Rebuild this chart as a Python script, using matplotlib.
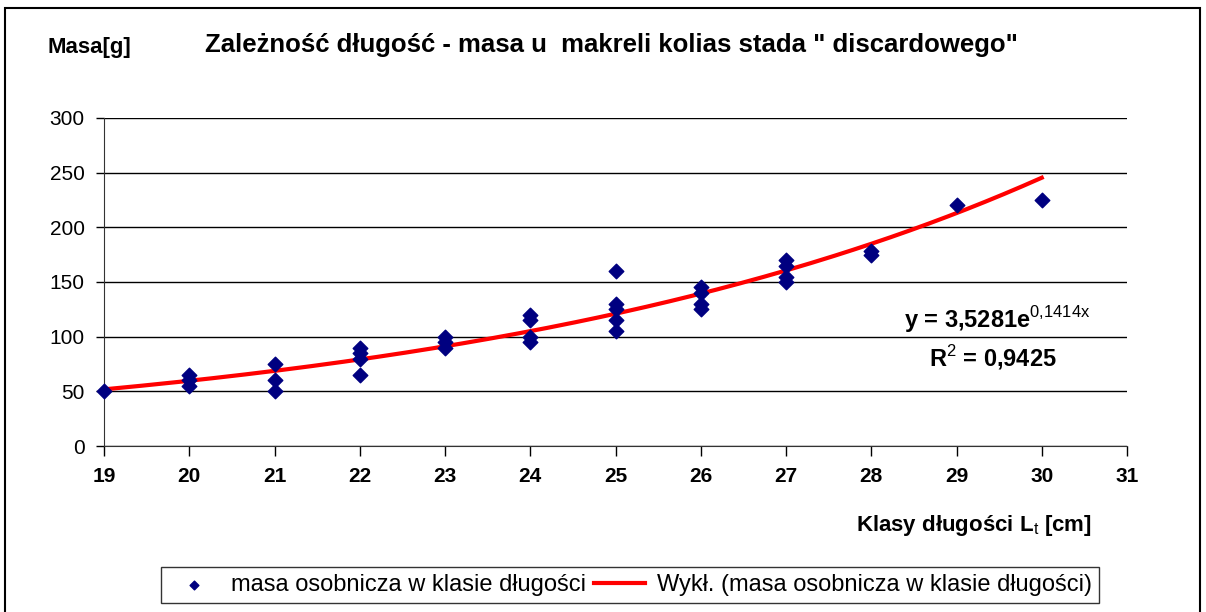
import numpy as np
import matplotlib.pyplot as plt

plt.rcParams['font.family'] = ['Liberation Sans', 'DejaVu Sans']
plt.rcParams['mathtext.fontset'] = 'custom'
plt.rcParams['mathtext.rm'] = 'Liberation Sans'
plt.rcParams['mathtext.bf'] = 'Liberation Sans:bold'

# length classes [cm] and individual masses [g]
x_vals = [19,
          20, 20, 20,
          21, 21, 21,
          22, 22, 22, 22,
          23, 23, 23,
          24, 24, 24, 24,
          25, 25, 25, 25, 25,
          26, 26, 26, 26,
          27, 27, 27, 27,
          28, 28,
          29,
          30]
masses = [50,
          65, 60, 55,
          75, 60, 50,
          90, 85, 80, 65,
          100, 95, 90,
          120, 115, 100, 95,
          160, 130, 125, 115, 105,
          145, 140, 130, 125,
          170, 165, 155, 150,
          178, 175,
          220,
          225]

# exponential trend from the chart
coef_a = 3.5281
coef_b = 0.1414
r2 = 0.9425

fig = plt.figure(figsize=(12.06, 6.12), dpi=100)
ax = fig.add_axes([104/1206, 1-446/612, (1127-104)/1206, (446-118)/612])

fx = np.linspace(min(x_vals), max(x_vals), 200)
fy = coef_a * np.exp(coef_b * fx)

ax.scatter(x_vals, masses, marker='D', s=55, color='#000080', zorder=3,
           label='masa osobnicza w klasie długości', clip_on=False)
ax.plot(fx, fy, color='#ff0000', lw=3, zorder=2,
        label='Wykł. (masa osobnicza w klasie długości)')

ax.set_xlim(19, 31)
ax.set_ylim(0, 300)
ax.set_xticks(range(19, 32))
ax.set_yticks(range(0, 301, 50))
ax.yaxis.grid(True, color='black', lw=1)
ax.set_axisbelow(True)
for s in ['top', 'right']:
    ax.spines[s].set_visible(False)
ax.spines['left'].set_color('#333333')
ax.spines['bottom'].set_color('#333333')
ax.tick_params(axis='x', labelsize=15, length=7, width=1, pad=8)
ax.tick_params(axis='y', labelsize=15, length=6, width=1, pad=8)
for lab in ax.get_xticklabels():
    lab.set_fontweight('bold')

fig.text(611/1206, 1-45/612, 'Zależność długość - masa u  makreli kolias stada " discardowego"',
         ha='center', va='center', fontsize=18.5, fontweight='bold')
fig.text(47/1206, 1-48/612, 'Masa[g]', ha='left', va='center', fontsize=16, fontweight='bold')
fig.text(1092/1206, 1-525/612, 'Klasy długości L$_\\mathrm{t}$ [cm]', ha='right', va='center',
         fontsize=16, fontweight='bold')
fig.text(1090/1206, 1-320/612, 'y = 3,5281e$^{\\mathrm{0{,}1414x}}$', ha='right', va='center',
         fontsize=17, fontweight='bold')
fig.text(1057/1206, 1-358/612, 'R$^{\\mathrm{2}}$ = 0,9425', ha='right', va='center',
         fontsize=17, fontweight='bold')

leg = fig.legend(loc='center', bbox_to_anchor=(630/1206, 1-585/612), ncol=2,
                 fontsize=17, frameon=True, fancybox=False, edgecolor='black',
                 handlelength=2.2, columnspacing=0.3, handletextpad=0.5,
                 borderpad=0.3, markerscale=0.6)
leg.get_frame().set_linewidth(1)

# outer chart border
fig.add_artist(plt.Rectangle((5/1206, -0.01), 1195/1206, 1-8/612 + 0.01,
                             transform=fig.transFigure, fill=False,
                             edgecolor='black', lw=1.5))

fig.savefig('out.png', dpi=100)
